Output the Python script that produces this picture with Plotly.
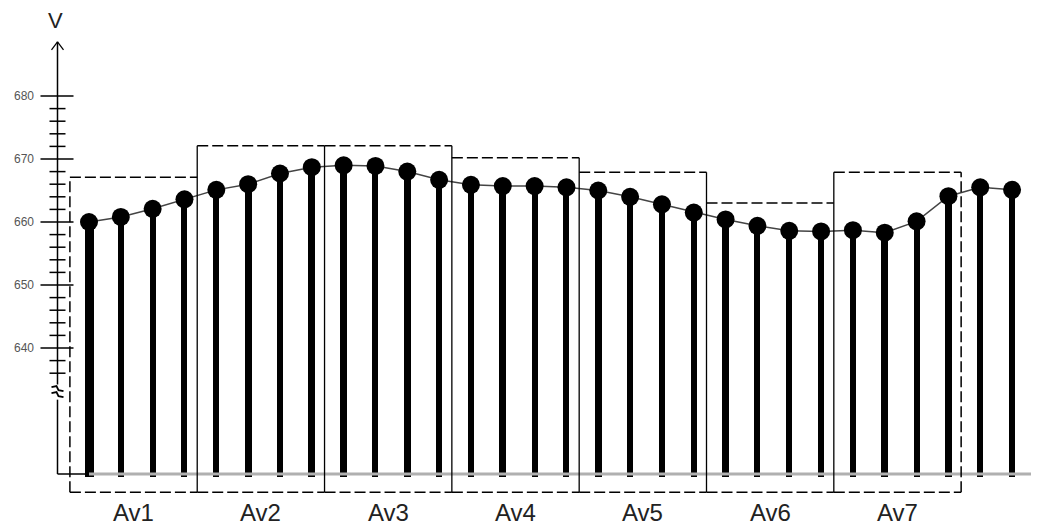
import plotly.graph_objects as go

# ---------------- data ----------------
t_index = list(range(1, 31))
voltage = [660.0, 660.8, 662.1, 663.6, 665.1, 666.0, 667.7, 668.7, 669.0, 668.9,
           668.0, 666.7, 665.9, 665.7, 665.7, 665.5, 665.0, 664.0, 662.8, 661.5,
           660.4, 659.4, 658.6, 658.5, 658.7, 658.3, 660.1, 664.1, 665.5, 665.1]
group_labels = ["Av1", "Av2", "Av3", "Av4", "Av5", "Av6", "Av7"]
group_tops = [667.1, 672.1, 672.1, 670.2, 667.9, 663.0, 667.9]
group_size = 4
major_ticks = [640, 650, 660, 670, 680]
minor_ticks = [636, 638, 642, 644, 646, 648, 652, 654, 656, 658,
               662, 664, 666, 668, 672, 674, 676, 678]
baseline = 620
axis_top = 688.6
break_at = 633.0

# ---------------- view / style ----------------
# the page body has an 8px margin, so the figure starts at (8, 8) in the window
OFF = 8
W, H = 1039 - OFF, 529 - OFF
PXX = 1 / 31.83            # data units per pixel (x)
PXY = 1 / 6.3              # data units per pixel (y)
X_RANGE = [1 + (OFF - 89) * PXX, 1 + (1039 - 89) * PXX]
Y_RANGE = [680 - (529 - 96) * PXY, 680 + (96 - OFF) * PXY]
AX_X = 1 + (57.5 - 89) * PXX           # y-axis position
BOX_X0 = 0.4
BOX_BOTTOM = 617.1
stem_px = [9, 6, 6, 6, 6, 7, 6, 7, 7, 6, 7, 6, 6, 7, 6, 6, 7, 6, 6, 6,
           7, 6, 6, 6, 6, 7, 6, 7, 6, 6]
FONT = "Liberation Sans, Arial, sans-serif"

fig = go.Figure()

# stems
fig.add_trace(go.Bar(
    x=t_index, y=[v - baseline + 0.5 for v in voltage], base=baseline - 0.5,
    width=[p * PXX for p in stem_px], marker=dict(color="black", line=dict(width=0)),
    hoverinfo="skip", showlegend=False))

# connecting line + dots
fig.add_trace(go.Scatter(
    x=t_index, y=voltage, mode="lines", line=dict(color="#444", width=1.5),
    showlegend=False, hoverinfo="skip"))
fig.add_trace(go.Scatter(
    x=t_index, y=voltage, mode="markers", marker=dict(color="black", size=18),
    showlegend=False))

shapes = []
def line(x0, y0, x1, y1, color="black", width=1.5, dash="solid"):
    shapes.append(dict(type="line", xref="x", yref="y", x0=x0, y0=y0, x1=x1, y1=y1,
                       line=dict(color=color, width=width, dash=dash)))

# gray baseline (time axis)
line(1, baseline, X_RANGE[1], baseline, color="#b0b0b0", width=3)
line(X_RANGE[1] - 6 * PXX, baseline + 6 * PXY, X_RANGE[1] + 2 * PXX, baseline, color="#888", width=1.5)
line(X_RANGE[1] - 6 * PXX, baseline - 6 * PXY, X_RANGE[1] + 2 * PXX, baseline, color="#888", width=1.5)

# y axis
line(AX_X, break_at + 1.2, AX_X, axis_top)
line(AX_X, baseline, AX_X, break_at - 1.2)
line(AX_X, baseline, 1 - 4 * PXX, baseline)
# arrow head
line(AX_X - 6 * PXX, axis_top - 8 * PXY, AX_X, axis_top, width=1.2)
line(AX_X + 6 * PXX, axis_top - 8 * PXY, AX_X, axis_top, width=1.2)
# break mark
for dy in (-3, 3):
    shapes.append(dict(type="path", xref="x", yref="y",
                       path=(f"M {AX_X - 6*PXX} {break_at + (dy + 2)*PXY} "
                             f"L {AX_X - 1*PXX} {break_at + (dy + 3)*PXY} "
                             f"L {AX_X + 1*PXX} {break_at + (dy - 1)*PXY} "
                             f"L {AX_X + 6*PXX} {break_at + (dy - 2)*PXY}"),
                       line=dict(color="black", width=1.8)))
# ticks
for v in major_ticks:
    line(AX_X - 17 * PXX, v, AX_X + 16 * PXX, v, width=1.5)
for v in minor_ticks:
    line(AX_X - 8 * PXX, v, AX_X + 8 * PXX, v, width=1.5)

# group boxes
n_groups = len(group_labels)
edges = [BOX_X0 + k * group_size for k in range(n_groups + 1)]
for k, top in enumerate(group_tops):
    x0, x1 = edges[k], edges[k + 1]
    line(x0, top, x1, top, dash="11px,4px")
    line(x0, BOX_BOTTOM, x1, BOX_BOTTOM, dash="11px,4px")
line(edges[0], BOX_BOTTOM, edges[0], group_tops[0], dash="11px,4px")
line(edges[-1], BOX_BOTTOM, edges[-1], group_tops[-1], dash="11px,4px")
for k in range(1, n_groups):
    line(edges[k], BOX_BOTTOM, edges[k], max(group_tops[k - 1], group_tops[k]), width=1.3)

annotations = []
for k, lab in enumerate(group_labels):
    annotations.append(dict(x=(edges[k] + edges[k + 1]) / 2, y=BOX_BOTTOM - 20 * PXY,
                            xref="x", yref="y", text=lab, showarrow=False,
                            font=dict(family=FONT, size=24, color="#222"),
                            xanchor="center", yanchor="middle"))
annotations.append(dict(x=AX_X - 2 * PXX, y=axis_top + 21 * PXY, xref="x", yref="y", text="V",
                        showarrow=False, font=dict(family=FONT, size=22, color="#222"),
                        xanchor="center", yanchor="middle", borderpad=0))
annotations.append(dict(x=30.69, y=baseline + 28 * PXY, xref="x", yref="y", text="t",
                        showarrow=False, font=dict(family=FONT, size=24, color="#222"),
                        xanchor="center", yanchor="middle"))

fig.update_layout(
    width=W, height=H, margin=dict(l=0, r=0, t=0, b=0),
    paper_bgcolor="white", plot_bgcolor="white",
    shapes=shapes, annotations=annotations, bargap=0,
    xaxis=dict(range=X_RANGE, visible=False, fixedrange=True),
    yaxis=dict(range=Y_RANGE, showgrid=False, zeroline=False, showline=False,
               ticks="", tickvals=major_ticks, ticktext=[str(v) for v in major_ticks],
               ticklabelposition="inside", ticklabelstandoff=3,
               tickfont=dict(family=FONT, size=12, color="#555"), fixedrange=True),
)

fig.write_html("out.html")
